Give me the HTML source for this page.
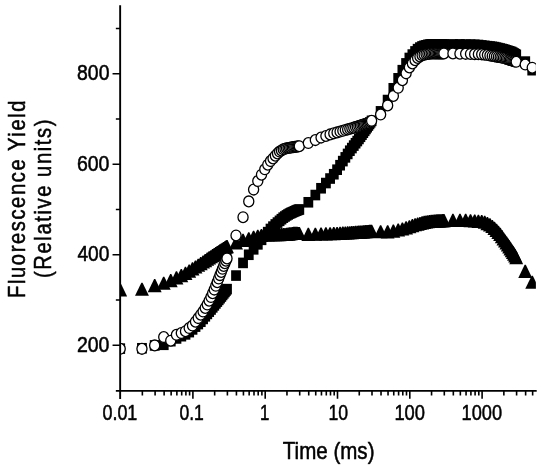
<!DOCTYPE html>
<html><head><meta charset="utf-8"><title>Fluorescence Yield</title>
<style>
html,body{margin:0;padding:0;background:#fff;}
body{width:550px;height:465px;overflow:hidden;font-family:"Liberation Sans",sans-serif;}
svg{display:block;font-family:"Liberation Sans",sans-serif;}
</style></head><body>
<svg width="550" height="465" viewBox="0 0 550 465">
<defs><clipPath id="pc"><rect x="120.15" y="0" width="415.75" height="391"/></clipPath></defs>
<rect width="550" height="465" fill="#fff"/>
<g clip-path="url(#pc)">
<rect x="115.30" y="343.33" width="9.80" height="10.60"/>
<rect x="137.06" y="342.97" width="9.80" height="10.60"/>
<rect x="149.80" y="340.12" width="9.80" height="10.60"/>
<rect x="158.83" y="339.49" width="9.80" height="10.60"/>
<rect x="165.84" y="335.87" width="9.80" height="10.60"/>
<rect x="171.56" y="333.15" width="9.80" height="10.60"/>
<rect x="176.40" y="330.89" width="9.80" height="10.60"/>
<rect x="180.59" y="329.08" width="9.80" height="10.60"/>
<rect x="184.29" y="326.82" width="9.80" height="10.60"/>
<rect x="187.60" y="324.11" width="9.80" height="10.60"/>
<rect x="190.59" y="321.31" width="9.80" height="10.60"/>
<rect x="193.32" y="318.76" width="9.80" height="10.60"/>
<rect x="195.84" y="316.42" width="9.80" height="10.60"/>
<rect x="198.17" y="313.63" width="9.80" height="10.60"/>
<rect x="200.33" y="311.04" width="9.80" height="10.60"/>
<rect x="202.36" y="308.62" width="9.80" height="10.60"/>
<rect x="204.26" y="306.35" width="9.80" height="10.60"/>
<rect x="206.06" y="304.20" width="9.80" height="10.60"/>
<rect x="207.75" y="302.07" width="9.80" height="10.60"/>
<rect x="209.36" y="300.06" width="9.80" height="10.60"/>
<rect x="210.90" y="298.14" width="9.80" height="10.60"/>
<rect x="212.36" y="296.31" width="9.80" height="10.60"/>
<rect x="213.75" y="294.56" width="9.80" height="10.60"/>
<rect x="215.09" y="292.89" width="9.80" height="10.60"/>
<rect x="216.37" y="291.24" width="9.80" height="10.60"/>
<rect x="217.60" y="289.64" width="9.80" height="10.60"/>
<rect x="218.79" y="288.11" width="9.80" height="10.60"/>
<rect x="219.93" y="286.64" width="9.80" height="10.60"/>
<rect x="221.03" y="285.22" width="9.80" height="10.60"/>
<rect x="222.10" y="283.84" width="9.80" height="10.60"/>
<rect x="231.13" y="270.27" width="9.80" height="10.60"/>
<rect x="238.14" y="257.60" width="9.80" height="10.60"/>
<rect x="243.86" y="249.46" width="9.80" height="10.60"/>
<rect x="248.70" y="244.03" width="9.80" height="10.60"/>
<rect x="252.89" y="239.05" width="9.80" height="10.60"/>
<rect x="256.59" y="234.53" width="9.80" height="10.60"/>
<rect x="259.90" y="230.46" width="9.80" height="10.60"/>
<rect x="262.89" y="226.84" width="9.80" height="10.60"/>
<rect x="265.62" y="223.67" width="9.80" height="10.60"/>
<rect x="268.14" y="221.32" width="9.80" height="10.60"/>
<rect x="270.47" y="219.15" width="9.80" height="10.60"/>
<rect x="272.63" y="217.28" width="9.80" height="10.60"/>
<rect x="274.66" y="215.53" width="9.80" height="10.60"/>
<rect x="276.56" y="213.90" width="9.80" height="10.60"/>
<rect x="278.36" y="212.36" width="9.80" height="10.60"/>
<rect x="280.05" y="211.20" width="9.80" height="10.60"/>
<rect x="281.66" y="210.10" width="9.80" height="10.60"/>
<rect x="283.20" y="209.17" width="9.80" height="10.60"/>
<rect x="284.66" y="208.29" width="9.80" height="10.60"/>
<rect x="286.05" y="207.66" width="9.80" height="10.60"/>
<rect x="287.39" y="207.06" width="9.80" height="10.60"/>
<rect x="288.67" y="206.48" width="9.80" height="10.60"/>
<rect x="289.90" y="205.93" width="9.80" height="10.60"/>
<rect x="291.09" y="205.41" width="9.80" height="10.60"/>
<rect x="292.23" y="204.90" width="9.80" height="10.60"/>
<rect x="293.33" y="204.55" width="9.80" height="10.60"/>
<rect x="294.40" y="204.22" width="9.80" height="10.60"/>
<rect x="303.43" y="196.98" width="9.80" height="10.60"/>
<rect x="310.44" y="189.74" width="9.80" height="10.60"/>
<rect x="316.16" y="182.96" width="9.80" height="10.60"/>
<rect x="321.00" y="177.75" width="9.80" height="10.60"/>
<rect x="325.19" y="173.23" width="9.80" height="10.60"/>
<rect x="328.89" y="168.93" width="9.80" height="10.60"/>
<rect x="332.20" y="164.41" width="9.80" height="10.60"/>
<rect x="335.19" y="159.92" width="9.80" height="10.60"/>
<rect x="337.92" y="155.81" width="9.80" height="10.60"/>
<rect x="340.44" y="152.08" width="9.80" height="10.60"/>
<rect x="342.77" y="148.63" width="9.80" height="10.60"/>
<rect x="344.93" y="145.41" width="9.80" height="10.60"/>
<rect x="346.96" y="142.77" width="9.80" height="10.60"/>
<rect x="348.86" y="140.29" width="9.80" height="10.60"/>
<rect x="350.66" y="137.95" width="9.80" height="10.60"/>
<rect x="352.35" y="135.74" width="9.80" height="10.60"/>
<rect x="353.96" y="133.65" width="9.80" height="10.60"/>
<rect x="355.50" y="131.47" width="9.80" height="10.60"/>
<rect x="356.96" y="129.39" width="9.80" height="10.60"/>
<rect x="358.35" y="127.41" width="9.80" height="10.60"/>
<rect x="359.69" y="125.51" width="9.80" height="10.60"/>
<rect x="360.97" y="123.69" width="9.80" height="10.60"/>
<rect x="362.20" y="121.94" width="9.80" height="10.60"/>
<rect x="363.39" y="120.26" width="9.80" height="10.60"/>
<rect x="364.53" y="118.63" width="9.80" height="10.60"/>
<rect x="365.63" y="117.06" width="9.80" height="10.60"/>
<rect x="366.70" y="115.55" width="9.80" height="10.60"/>
<rect x="375.73" y="106.05" width="9.80" height="10.60"/>
<rect x="382.74" y="94.74" width="9.80" height="10.60"/>
<rect x="388.46" y="82.98" width="9.80" height="10.60"/>
<rect x="393.30" y="73.02" width="9.80" height="10.60"/>
<rect x="397.49" y="64.88" width="9.80" height="10.60"/>
<rect x="401.19" y="58.09" width="9.80" height="10.60"/>
<rect x="404.50" y="52.67" width="9.80" height="10.60"/>
<rect x="407.49" y="49.27" width="9.80" height="10.60"/>
<rect x="410.22" y="46.11" width="9.80" height="10.60"/>
<rect x="412.74" y="43.84" width="9.80" height="10.60"/>
<rect x="415.07" y="42.26" width="9.80" height="10.60"/>
<rect x="417.23" y="41.13" width="9.80" height="10.60"/>
<rect x="419.26" y="40.45" width="9.80" height="10.60"/>
<rect x="421.16" y="40.00" width="9.80" height="10.60"/>
<rect x="422.96" y="39.55" width="9.80" height="10.60"/>
<rect x="424.65" y="39.31" width="9.80" height="10.60"/>
<rect x="426.26" y="39.09" width="9.80" height="10.60"/>
<rect x="427.80" y="39.09" width="9.80" height="10.60"/>
<rect x="429.26" y="39.09" width="9.80" height="10.60"/>
<rect x="430.65" y="39.09" width="9.80" height="10.60"/>
<rect x="431.99" y="39.09" width="9.80" height="10.60"/>
<rect x="433.27" y="39.09" width="9.80" height="10.60"/>
<rect x="434.50" y="39.09" width="9.80" height="10.60"/>
<rect x="435.69" y="39.09" width="9.80" height="10.60"/>
<rect x="436.83" y="39.09" width="9.80" height="10.60"/>
<rect x="437.93" y="39.09" width="9.80" height="10.60"/>
<rect x="439.00" y="39.09" width="9.80" height="10.60"/>
<rect x="448.03" y="39.09" width="9.80" height="10.60"/>
<rect x="455.04" y="39.09" width="9.80" height="10.60"/>
<rect x="460.76" y="39.24" width="9.80" height="10.60"/>
<rect x="465.60" y="39.37" width="9.80" height="10.60"/>
<rect x="469.79" y="39.48" width="9.80" height="10.60"/>
<rect x="473.49" y="39.69" width="9.80" height="10.60"/>
<rect x="476.80" y="40.12" width="9.80" height="10.60"/>
<rect x="479.79" y="40.52" width="9.80" height="10.60"/>
<rect x="482.52" y="40.88" width="9.80" height="10.60"/>
<rect x="485.04" y="41.21" width="9.80" height="10.60"/>
<rect x="487.37" y="41.52" width="9.80" height="10.60"/>
<rect x="489.53" y="41.81" width="9.80" height="10.60"/>
<rect x="491.56" y="42.32" width="9.80" height="10.60"/>
<rect x="493.46" y="42.79" width="9.80" height="10.60"/>
<rect x="495.26" y="43.24" width="9.80" height="10.60"/>
<rect x="496.95" y="43.67" width="9.80" height="10.60"/>
<rect x="498.56" y="44.07" width="9.80" height="10.60"/>
<rect x="500.10" y="44.58" width="9.80" height="10.60"/>
<rect x="501.56" y="45.06" width="9.80" height="10.60"/>
<rect x="502.95" y="45.52" width="9.80" height="10.60"/>
<rect x="504.29" y="45.96" width="9.80" height="10.60"/>
<rect x="505.57" y="46.38" width="9.80" height="10.60"/>
<rect x="506.80" y="46.78" width="9.80" height="10.60"/>
<rect x="507.99" y="47.50" width="9.80" height="10.60"/>
<rect x="509.13" y="48.19" width="9.80" height="10.60"/>
<rect x="510.23" y="48.86" width="9.80" height="10.60"/>
<rect x="511.30" y="49.50" width="9.80" height="10.60"/>
<rect x="520.33" y="56.29" width="9.80" height="10.60"/>
<rect x="527.34" y="64.88" width="9.80" height="10.60"/>
<path d="M119.60 283.27h1.2L127.15 296.42h-13.90Z"/>
<path d="M141.36 282.69h1.2L148.91 295.84h-13.90Z"/>
<path d="M154.10 278.98h1.2L161.65 292.13h-13.90Z"/>
<path d="M163.13 276.71h1.2L170.68 289.86h-13.90Z"/>
<path d="M170.14 274.00h1.2L177.69 287.15h-13.90Z"/>
<path d="M175.86 271.28h1.2L183.41 284.43h-13.90Z"/>
<path d="M180.70 269.02h1.2L188.25 282.17h-13.90Z"/>
<path d="M184.89 266.76h1.2L192.44 279.91h-13.90Z"/>
<path d="M188.59 264.50h1.2L196.14 277.65h-13.90Z"/>
<path d="M191.90 262.24h1.2L199.45 275.39h-13.90Z"/>
<path d="M194.89 260.40h1.2L202.44 273.55h-13.90Z"/>
<path d="M197.62 258.67h1.2L205.17 271.82h-13.90Z"/>
<path d="M200.14 256.99h1.2L207.69 270.14h-13.90Z"/>
<path d="M202.47 255.43h1.2L210.02 268.58h-13.90Z"/>
<path d="M204.63 253.98h1.2L212.18 267.13h-13.90Z"/>
<path d="M206.66 252.62h1.2L214.21 265.77h-13.90Z"/>
<path d="M208.56 251.35h1.2L216.11 264.50h-13.90Z"/>
<path d="M210.36 250.15h1.2L217.91 263.30h-13.90Z"/>
<path d="M212.05 249.04h1.2L219.60 262.19h-13.90Z"/>
<path d="M213.66 248.01h1.2L221.21 261.16h-13.90Z"/>
<path d="M215.20 247.03h1.2L222.75 260.18h-13.90Z"/>
<path d="M216.66 246.10h1.2L224.21 259.25h-13.90Z"/>
<path d="M218.05 245.21h1.2L225.60 258.36h-13.90Z"/>
<path d="M219.39 244.36h1.2L226.94 257.51h-13.90Z"/>
<path d="M220.67 243.54h1.2L228.22 256.69h-13.90Z"/>
<path d="M221.90 242.76h1.2L229.45 255.91h-13.90Z"/>
<path d="M223.09 242.00h1.2L230.64 255.15h-13.90Z"/>
<path d="M224.23 241.27h1.2L231.78 254.42h-13.90Z"/>
<path d="M225.33 240.57h1.2L232.88 253.72h-13.90Z"/>
<path d="M226.40 240.04h1.2L233.95 253.19h-13.90Z"/>
<path d="M235.43 236.41h1.2L242.98 249.56h-13.90Z"/>
<path d="M242.44 233.82h1.2L249.99 246.97h-13.90Z"/>
<path d="M248.16 232.13h1.2L255.71 245.28h-13.90Z"/>
<path d="M253.00 230.70h1.2L260.55 243.85h-13.90Z"/>
<path d="M257.19 229.68h1.2L264.74 242.83h-13.90Z"/>
<path d="M260.89 228.95h1.2L268.44 242.10h-13.90Z"/>
<path d="M264.20 228.31h1.2L271.75 241.46h-13.90Z"/>
<path d="M267.19 228.24h1.2L274.74 241.39h-13.90Z"/>
<path d="M269.92 228.19h1.2L277.47 241.34h-13.90Z"/>
<path d="M272.44 228.14h1.2L279.99 241.29h-13.90Z"/>
<path d="M274.77 228.09h1.2L282.32 241.24h-13.90Z"/>
<path d="M276.93 228.04h1.2L284.48 241.19h-13.90Z"/>
<path d="M278.96 228.00h1.2L286.51 241.15h-13.90Z"/>
<path d="M280.86 227.96h1.2L288.41 241.11h-13.90Z"/>
<path d="M282.66 227.92h1.2L290.21 241.07h-13.90Z"/>
<path d="M284.35 227.89h1.2L291.90 241.04h-13.90Z"/>
<path d="M285.96 227.85h1.2L293.51 241.00h-13.90Z"/>
<path d="M287.50 227.61h1.2L295.05 240.76h-13.90Z"/>
<path d="M288.96 227.37h1.2L296.51 240.52h-13.90Z"/>
<path d="M290.35 227.15h1.2L297.90 240.30h-13.90Z"/>
<path d="M291.69 226.93h1.2L299.24 240.08h-13.90Z"/>
<path d="M292.97 226.72h1.2L300.52 239.87h-13.90Z"/>
<path d="M294.20 226.77h1.2L301.75 239.92h-13.90Z"/>
<path d="M295.39 226.82h1.2L302.94 239.97h-13.90Z"/>
<path d="M296.53 226.86h1.2L304.08 240.01h-13.90Z"/>
<path d="M297.63 226.91h1.2L305.18 240.06h-13.90Z"/>
<path d="M298.70 226.95h1.2L306.25 240.10h-13.90Z"/>
<path d="M307.73 227.85h1.2L315.28 241.00h-13.90Z"/>
<path d="M314.74 227.63h1.2L322.29 240.78h-13.90Z"/>
<path d="M320.46 227.45h1.2L328.01 240.60h-13.90Z"/>
<path d="M325.30 227.30h1.2L332.85 240.45h-13.90Z"/>
<path d="M329.49 227.17h1.2L337.04 240.32h-13.90Z"/>
<path d="M333.19 227.05h1.2L340.74 240.20h-13.90Z"/>
<path d="M336.50 226.95h1.2L344.05 240.10h-13.90Z"/>
<path d="M339.49 226.76h1.2L347.04 239.91h-13.90Z"/>
<path d="M342.22 226.59h1.2L349.77 239.74h-13.90Z"/>
<path d="M344.74 226.44h1.2L352.29 239.59h-13.90Z"/>
<path d="M347.07 226.29h1.2L354.62 239.44h-13.90Z"/>
<path d="M349.23 226.16h1.2L356.78 239.31h-13.90Z"/>
<path d="M351.26 226.03h1.2L358.81 239.18h-13.90Z"/>
<path d="M353.16 225.91h1.2L360.71 239.06h-13.90Z"/>
<path d="M354.96 225.80h1.2L362.51 238.95h-13.90Z"/>
<path d="M356.65 225.69h1.2L364.20 238.84h-13.90Z"/>
<path d="M358.26 225.59h1.2L365.81 238.74h-13.90Z"/>
<path d="M359.80 225.48h1.2L367.35 238.63h-13.90Z"/>
<path d="M361.26 225.38h1.2L368.81 238.53h-13.90Z"/>
<path d="M362.65 225.28h1.2L370.20 238.43h-13.90Z"/>
<path d="M363.99 225.19h1.2L371.54 238.34h-13.90Z"/>
<path d="M365.27 225.09h1.2L372.82 238.24h-13.90Z"/>
<path d="M366.50 225.01h1.2L374.05 238.16h-13.90Z"/>
<path d="M367.69 224.92h1.2L375.24 238.07h-13.90Z"/>
<path d="M368.83 224.84h1.2L376.38 237.99h-13.90Z"/>
<path d="M369.93 224.76h1.2L377.48 237.91h-13.90Z"/>
<path d="M371.00 224.69h1.2L378.55 237.84h-13.90Z"/>
<path d="M380.03 225.14h1.2L387.58 238.29h-13.90Z"/>
<path d="M387.04 225.37h1.2L394.59 238.52h-13.90Z"/>
<path d="M392.76 224.56h1.2L400.31 237.71h-13.90Z"/>
<path d="M397.60 223.42h1.2L405.15 236.57h-13.90Z"/>
<path d="M401.79 222.42h1.2L409.34 235.57h-13.90Z"/>
<path d="M405.49 221.34h1.2L413.04 234.49h-13.90Z"/>
<path d="M408.80 220.16h1.2L416.35 233.31h-13.90Z"/>
<path d="M411.79 219.10h1.2L419.34 232.25h-13.90Z"/>
<path d="M414.52 218.13h1.2L422.07 231.28h-13.90Z"/>
<path d="M417.04 217.48h1.2L424.59 230.63h-13.90Z"/>
<path d="M419.37 216.88h1.2L426.92 230.03h-13.90Z"/>
<path d="M421.53 216.32h1.2L429.08 229.47h-13.90Z"/>
<path d="M423.56 215.85h1.2L431.11 229.00h-13.90Z"/>
<path d="M425.46 215.41h1.2L433.01 228.56h-13.90Z"/>
<path d="M427.26 215.17h1.2L434.81 228.32h-13.90Z"/>
<path d="M428.95 214.95h1.2L436.50 228.10h-13.90Z"/>
<path d="M430.56 214.73h1.2L438.11 227.88h-13.90Z"/>
<path d="M432.10 214.64h1.2L439.65 227.79h-13.90Z"/>
<path d="M433.56 214.54h1.2L441.11 227.69h-13.90Z"/>
<path d="M434.95 214.45h1.2L442.50 227.60h-13.90Z"/>
<path d="M436.29 214.37h1.2L443.84 227.52h-13.90Z"/>
<path d="M437.57 214.28h1.2L445.12 227.43h-13.90Z"/>
<path d="M438.80 214.23h1.2L446.35 227.38h-13.90Z"/>
<path d="M439.99 214.19h1.2L447.54 227.34h-13.90Z"/>
<path d="M441.13 214.14h1.2L448.68 227.29h-13.90Z"/>
<path d="M442.23 214.10h1.2L449.78 227.25h-13.90Z"/>
<path d="M443.30 214.06h1.2L450.85 227.21h-13.90Z"/>
<path d="M452.33 213.83h1.2L459.88 226.98h-13.90Z"/>
<path d="M459.34 213.83h1.2L466.89 226.98h-13.90Z"/>
<path d="M465.06 213.83h1.2L472.61 226.98h-13.90Z"/>
<path d="M469.90 214.17h1.2L477.45 227.32h-13.90Z"/>
<path d="M474.09 214.47h1.2L481.64 227.62h-13.90Z"/>
<path d="M477.79 214.73h1.2L485.34 227.88h-13.90Z"/>
<path d="M481.10 214.96h1.2L488.65 228.11h-13.90Z"/>
<path d="M484.09 215.64h1.2L491.64 228.79h-13.90Z"/>
<path d="M486.82 217.00h1.2L494.37 230.15h-13.90Z"/>
<path d="M489.34 218.35h1.2L496.89 231.50h-13.90Z"/>
<path d="M491.67 219.94h1.2L499.22 233.09h-13.90Z"/>
<path d="M493.83 221.75h1.2L501.38 234.90h-13.90Z"/>
<path d="M495.86 223.78h1.2L503.41 236.93h-13.90Z"/>
<path d="M497.76 225.82h1.2L505.31 238.97h-13.90Z"/>
<path d="M499.56 227.85h1.2L507.11 241.00h-13.90Z"/>
<path d="M501.25 230.12h1.2L508.80 243.27h-13.90Z"/>
<path d="M502.86 232.38h1.2L510.41 245.53h-13.90Z"/>
<path d="M504.40 234.46h1.2L511.95 247.61h-13.90Z"/>
<path d="M505.86 236.45h1.2L513.41 249.60h-13.90Z"/>
<path d="M507.25 238.41h1.2L514.80 251.56h-13.90Z"/>
<path d="M508.59 240.30h1.2L516.14 253.45h-13.90Z"/>
<path d="M509.87 242.26h1.2L517.42 255.41h-13.90Z"/>
<path d="M511.10 244.14h1.2L518.65 257.29h-13.90Z"/>
<path d="M512.29 245.87h1.2L519.84 259.02h-13.90Z"/>
<path d="M513.43 247.53h1.2L520.98 260.68h-13.90Z"/>
<path d="M514.53 249.37h1.2L522.08 262.52h-13.90Z"/>
<path d="M515.60 251.15h1.2L523.15 264.30h-13.90Z"/>
<path d="M524.63 264.77h1.2L532.18 277.92h-13.90Z"/>
<path d="M531.64 275.67h1.2L539.19 288.82h-13.90Z"/>
<ellipse cx="120.20" cy="348.86" rx="5.05" ry="5.40" fill="#fff" stroke="#000" stroke-width="1.30"/>
<ellipse cx="141.96" cy="348.86" rx="5.05" ry="5.40" fill="#fff" stroke="#000" stroke-width="1.30"/>
<ellipse cx="154.70" cy="345.42" rx="5.05" ry="5.40" fill="#fff" stroke="#000" stroke-width="1.30"/>
<ellipse cx="163.73" cy="337.10" rx="5.05" ry="5.40" fill="#fff" stroke="#000" stroke-width="1.30"/>
<ellipse cx="170.74" cy="340.72" rx="5.05" ry="5.40" fill="#fff" stroke="#000" stroke-width="1.30"/>
<ellipse cx="176.46" cy="334.83" rx="5.05" ry="5.40" fill="#fff" stroke="#000" stroke-width="1.30"/>
<ellipse cx="181.30" cy="333.03" rx="5.05" ry="5.40" fill="#fff" stroke="#000" stroke-width="1.30"/>
<ellipse cx="185.49" cy="331.22" rx="5.05" ry="5.40" fill="#fff" stroke="#000" stroke-width="1.30"/>
<ellipse cx="189.19" cy="328.05" rx="5.05" ry="5.40" fill="#fff" stroke="#000" stroke-width="1.30"/>
<ellipse cx="192.50" cy="325.56" rx="5.05" ry="5.40" fill="#fff" stroke="#000" stroke-width="1.30"/>
<ellipse cx="195.49" cy="321.66" rx="5.05" ry="5.40" fill="#fff" stroke="#000" stroke-width="1.30"/>
<ellipse cx="198.22" cy="318.10" rx="5.05" ry="5.40" fill="#fff" stroke="#000" stroke-width="1.30"/>
<ellipse cx="200.74" cy="314.69" rx="5.05" ry="5.40" fill="#fff" stroke="#000" stroke-width="1.30"/>
<ellipse cx="203.07" cy="311.54" rx="5.05" ry="5.40" fill="#fff" stroke="#000" stroke-width="1.30"/>
<ellipse cx="205.23" cy="307.91" rx="5.05" ry="5.40" fill="#fff" stroke="#000" stroke-width="1.30"/>
<ellipse cx="207.26" cy="304.52" rx="5.05" ry="5.40" fill="#fff" stroke="#000" stroke-width="1.30"/>
<ellipse cx="209.16" cy="300.68" rx="5.05" ry="5.40" fill="#fff" stroke="#000" stroke-width="1.30"/>
<ellipse cx="210.96" cy="297.06" rx="5.05" ry="5.40" fill="#fff" stroke="#000" stroke-width="1.30"/>
<ellipse cx="212.65" cy="293.23" rx="5.05" ry="5.40" fill="#fff" stroke="#000" stroke-width="1.30"/>
<ellipse cx="214.26" cy="289.59" rx="5.05" ry="5.40" fill="#fff" stroke="#000" stroke-width="1.30"/>
<ellipse cx="215.80" cy="285.77" rx="5.05" ry="5.40" fill="#fff" stroke="#000" stroke-width="1.30"/>
<ellipse cx="217.26" cy="282.13" rx="5.05" ry="5.40" fill="#fff" stroke="#000" stroke-width="1.30"/>
<ellipse cx="218.65" cy="278.55" rx="5.05" ry="5.40" fill="#fff" stroke="#000" stroke-width="1.30"/>
<ellipse cx="219.99" cy="275.12" rx="5.05" ry="5.40" fill="#fff" stroke="#000" stroke-width="1.30"/>
<ellipse cx="221.27" cy="271.89" rx="5.05" ry="5.40" fill="#fff" stroke="#000" stroke-width="1.30"/>
<ellipse cx="222.50" cy="268.78" rx="5.05" ry="5.40" fill="#fff" stroke="#000" stroke-width="1.30"/>
<ellipse cx="223.69" cy="265.90" rx="5.05" ry="5.40" fill="#fff" stroke="#000" stroke-width="1.30"/>
<ellipse cx="224.83" cy="263.13" rx="5.05" ry="5.40" fill="#fff" stroke="#000" stroke-width="1.30"/>
<ellipse cx="225.93" cy="260.71" rx="5.05" ry="5.40" fill="#fff" stroke="#000" stroke-width="1.30"/>
<ellipse cx="227.00" cy="258.38" rx="5.05" ry="5.40" fill="#fff" stroke="#000" stroke-width="1.30"/>
<ellipse cx="236.03" cy="235.44" rx="5.05" ry="5.40" fill="#fff" stroke="#000" stroke-width="1.30"/>
<ellipse cx="243.04" cy="217.21" rx="5.05" ry="5.40" fill="#fff" stroke="#000" stroke-width="1.30"/>
<ellipse cx="248.76" cy="201.38" rx="5.05" ry="5.40" fill="#fff" stroke="#000" stroke-width="1.30"/>
<ellipse cx="253.60" cy="189.61" rx="5.05" ry="5.40" fill="#fff" stroke="#000" stroke-width="1.30"/>
<ellipse cx="257.79" cy="181.02" rx="5.05" ry="5.40" fill="#fff" stroke="#000" stroke-width="1.30"/>
<ellipse cx="261.49" cy="174.69" rx="5.05" ry="5.40" fill="#fff" stroke="#000" stroke-width="1.30"/>
<ellipse cx="264.80" cy="169.26" rx="5.05" ry="5.40" fill="#fff" stroke="#000" stroke-width="1.30"/>
<ellipse cx="267.79" cy="164.73" rx="5.05" ry="5.40" fill="#fff" stroke="#000" stroke-width="1.30"/>
<ellipse cx="270.52" cy="161.11" rx="5.05" ry="5.40" fill="#fff" stroke="#000" stroke-width="1.30"/>
<ellipse cx="273.04" cy="158.40" rx="5.05" ry="5.40" fill="#fff" stroke="#000" stroke-width="1.30"/>
<ellipse cx="275.37" cy="155.68" rx="5.05" ry="5.40" fill="#fff" stroke="#000" stroke-width="1.30"/>
<ellipse cx="277.53" cy="153.42" rx="5.05" ry="5.40" fill="#fff" stroke="#000" stroke-width="1.30"/>
<ellipse cx="279.56" cy="151.61" rx="5.05" ry="5.40" fill="#fff" stroke="#000" stroke-width="1.30"/>
<ellipse cx="281.46" cy="150.45" rx="5.05" ry="5.40" fill="#fff" stroke="#000" stroke-width="1.30"/>
<ellipse cx="283.26" cy="149.35" rx="5.05" ry="5.40" fill="#fff" stroke="#000" stroke-width="1.30"/>
<ellipse cx="284.95" cy="148.77" rx="5.05" ry="5.40" fill="#fff" stroke="#000" stroke-width="1.30"/>
<ellipse cx="286.56" cy="148.22" rx="5.05" ry="5.40" fill="#fff" stroke="#000" stroke-width="1.30"/>
<ellipse cx="288.10" cy="147.98" rx="5.05" ry="5.40" fill="#fff" stroke="#000" stroke-width="1.30"/>
<ellipse cx="289.56" cy="147.75" rx="5.05" ry="5.40" fill="#fff" stroke="#000" stroke-width="1.30"/>
<ellipse cx="290.95" cy="147.53" rx="5.05" ry="5.40" fill="#fff" stroke="#000" stroke-width="1.30"/>
<ellipse cx="292.29" cy="147.31" rx="5.05" ry="5.40" fill="#fff" stroke="#000" stroke-width="1.30"/>
<ellipse cx="293.57" cy="147.11" rx="5.05" ry="5.40" fill="#fff" stroke="#000" stroke-width="1.30"/>
<ellipse cx="294.80" cy="146.91" rx="5.05" ry="5.40" fill="#fff" stroke="#000" stroke-width="1.30"/>
<ellipse cx="295.99" cy="146.72" rx="5.05" ry="5.40" fill="#fff" stroke="#000" stroke-width="1.30"/>
<ellipse cx="297.13" cy="146.53" rx="5.05" ry="5.40" fill="#fff" stroke="#000" stroke-width="1.30"/>
<ellipse cx="298.23" cy="146.36" rx="5.05" ry="5.40" fill="#fff" stroke="#000" stroke-width="1.30"/>
<ellipse cx="299.30" cy="146.18" rx="5.05" ry="5.40" fill="#fff" stroke="#000" stroke-width="1.30"/>
<ellipse cx="308.33" cy="143.02" rx="5.05" ry="5.40" fill="#fff" stroke="#000" stroke-width="1.30"/>
<ellipse cx="315.34" cy="140.08" rx="5.05" ry="5.40" fill="#fff" stroke="#000" stroke-width="1.30"/>
<ellipse cx="321.06" cy="137.59" rx="5.05" ry="5.40" fill="#fff" stroke="#000" stroke-width="1.30"/>
<ellipse cx="325.90" cy="136.00" rx="5.05" ry="5.40" fill="#fff" stroke="#000" stroke-width="1.30"/>
<ellipse cx="330.09" cy="134.42" rx="5.05" ry="5.40" fill="#fff" stroke="#000" stroke-width="1.30"/>
<ellipse cx="333.79" cy="133.35" rx="5.05" ry="5.40" fill="#fff" stroke="#000" stroke-width="1.30"/>
<ellipse cx="337.10" cy="132.39" rx="5.05" ry="5.40" fill="#fff" stroke="#000" stroke-width="1.30"/>
<ellipse cx="340.09" cy="131.56" rx="5.05" ry="5.40" fill="#fff" stroke="#000" stroke-width="1.30"/>
<ellipse cx="342.82" cy="130.80" rx="5.05" ry="5.40" fill="#fff" stroke="#000" stroke-width="1.30"/>
<ellipse cx="345.34" cy="130.07" rx="5.05" ry="5.40" fill="#fff" stroke="#000" stroke-width="1.30"/>
<ellipse cx="347.67" cy="129.40" rx="5.05" ry="5.40" fill="#fff" stroke="#000" stroke-width="1.30"/>
<ellipse cx="349.83" cy="128.77" rx="5.05" ry="5.40" fill="#fff" stroke="#000" stroke-width="1.30"/>
<ellipse cx="351.86" cy="128.19" rx="5.05" ry="5.40" fill="#fff" stroke="#000" stroke-width="1.30"/>
<ellipse cx="353.76" cy="127.64" rx="5.05" ry="5.40" fill="#fff" stroke="#000" stroke-width="1.30"/>
<ellipse cx="355.56" cy="127.08" rx="5.05" ry="5.40" fill="#fff" stroke="#000" stroke-width="1.30"/>
<ellipse cx="357.25" cy="126.56" rx="5.05" ry="5.40" fill="#fff" stroke="#000" stroke-width="1.30"/>
<ellipse cx="358.86" cy="126.07" rx="5.05" ry="5.40" fill="#fff" stroke="#000" stroke-width="1.30"/>
<ellipse cx="360.40" cy="125.60" rx="5.05" ry="5.40" fill="#fff" stroke="#000" stroke-width="1.30"/>
<ellipse cx="361.86" cy="125.11" rx="5.05" ry="5.40" fill="#fff" stroke="#000" stroke-width="1.30"/>
<ellipse cx="363.25" cy="124.64" rx="5.05" ry="5.40" fill="#fff" stroke="#000" stroke-width="1.30"/>
<ellipse cx="364.59" cy="124.19" rx="5.05" ry="5.40" fill="#fff" stroke="#000" stroke-width="1.30"/>
<ellipse cx="365.87" cy="123.75" rx="5.05" ry="5.40" fill="#fff" stroke="#000" stroke-width="1.30"/>
<ellipse cx="367.10" cy="123.34" rx="5.05" ry="5.40" fill="#fff" stroke="#000" stroke-width="1.30"/>
<ellipse cx="368.29" cy="122.68" rx="5.05" ry="5.40" fill="#fff" stroke="#000" stroke-width="1.30"/>
<ellipse cx="369.43" cy="122.05" rx="5.05" ry="5.40" fill="#fff" stroke="#000" stroke-width="1.30"/>
<ellipse cx="370.53" cy="121.44" rx="5.05" ry="5.40" fill="#fff" stroke="#000" stroke-width="1.30"/>
<ellipse cx="371.60" cy="120.85" rx="5.05" ry="5.40" fill="#fff" stroke="#000" stroke-width="1.30"/>
<ellipse cx="380.63" cy="114.52" rx="5.05" ry="5.40" fill="#fff" stroke="#000" stroke-width="1.30"/>
<ellipse cx="387.64" cy="105.47" rx="5.05" ry="5.40" fill="#fff" stroke="#000" stroke-width="1.30"/>
<ellipse cx="393.36" cy="95.97" rx="5.05" ry="5.40" fill="#fff" stroke="#000" stroke-width="1.30"/>
<ellipse cx="398.20" cy="87.82" rx="5.05" ry="5.40" fill="#fff" stroke="#000" stroke-width="1.30"/>
<ellipse cx="402.39" cy="80.13" rx="5.05" ry="5.40" fill="#fff" stroke="#000" stroke-width="1.30"/>
<ellipse cx="406.09" cy="73.35" rx="5.05" ry="5.40" fill="#fff" stroke="#000" stroke-width="1.30"/>
<ellipse cx="409.40" cy="67.47" rx="5.05" ry="5.40" fill="#fff" stroke="#000" stroke-width="1.30"/>
<ellipse cx="412.39" cy="63.39" rx="5.05" ry="5.40" fill="#fff" stroke="#000" stroke-width="1.30"/>
<ellipse cx="415.12" cy="60.23" rx="5.05" ry="5.40" fill="#fff" stroke="#000" stroke-width="1.30"/>
<ellipse cx="417.64" cy="57.97" rx="5.05" ry="5.40" fill="#fff" stroke="#000" stroke-width="1.30"/>
<ellipse cx="419.97" cy="56.38" rx="5.05" ry="5.40" fill="#fff" stroke="#000" stroke-width="1.30"/>
<ellipse cx="422.13" cy="55.25" rx="5.05" ry="5.40" fill="#fff" stroke="#000" stroke-width="1.30"/>
<ellipse cx="424.16" cy="54.67" rx="5.05" ry="5.40" fill="#fff" stroke="#000" stroke-width="1.30"/>
<ellipse cx="426.06" cy="54.12" rx="5.05" ry="5.40" fill="#fff" stroke="#000" stroke-width="1.30"/>
<ellipse cx="427.86" cy="53.88" rx="5.05" ry="5.40" fill="#fff" stroke="#000" stroke-width="1.30"/>
<ellipse cx="429.55" cy="53.66" rx="5.05" ry="5.40" fill="#fff" stroke="#000" stroke-width="1.30"/>
<ellipse cx="431.16" cy="53.44" rx="5.05" ry="5.40" fill="#fff" stroke="#000" stroke-width="1.30"/>
<ellipse cx="432.70" cy="53.44" rx="5.05" ry="5.40" fill="#fff" stroke="#000" stroke-width="1.30"/>
<ellipse cx="434.16" cy="53.44" rx="5.05" ry="5.40" fill="#fff" stroke="#000" stroke-width="1.30"/>
<ellipse cx="435.55" cy="53.44" rx="5.05" ry="5.40" fill="#fff" stroke="#000" stroke-width="1.30"/>
<ellipse cx="436.89" cy="53.44" rx="5.05" ry="5.40" fill="#fff" stroke="#000" stroke-width="1.30"/>
<ellipse cx="438.17" cy="53.44" rx="5.05" ry="5.40" fill="#fff" stroke="#000" stroke-width="1.30"/>
<ellipse cx="439.40" cy="53.44" rx="5.05" ry="5.40" fill="#fff" stroke="#000" stroke-width="1.30"/>
<ellipse cx="440.59" cy="53.44" rx="5.05" ry="5.40" fill="#fff" stroke="#000" stroke-width="1.30"/>
<ellipse cx="441.73" cy="53.44" rx="5.05" ry="5.40" fill="#fff" stroke="#000" stroke-width="1.30"/>
<ellipse cx="442.83" cy="53.44" rx="5.05" ry="5.40" fill="#fff" stroke="#000" stroke-width="1.30"/>
<ellipse cx="443.90" cy="53.44" rx="5.05" ry="5.40" fill="#fff" stroke="#000" stroke-width="1.30"/>
<ellipse cx="452.93" cy="53.44" rx="5.05" ry="5.40" fill="#fff" stroke="#000" stroke-width="1.30"/>
<ellipse cx="459.94" cy="53.66" rx="5.05" ry="5.40" fill="#fff" stroke="#000" stroke-width="1.30"/>
<ellipse cx="465.66" cy="53.84" rx="5.05" ry="5.40" fill="#fff" stroke="#000" stroke-width="1.30"/>
<ellipse cx="470.50" cy="53.99" rx="5.05" ry="5.40" fill="#fff" stroke="#000" stroke-width="1.30"/>
<ellipse cx="474.69" cy="54.13" rx="5.05" ry="5.40" fill="#fff" stroke="#000" stroke-width="1.30"/>
<ellipse cx="478.39" cy="54.24" rx="5.05" ry="5.40" fill="#fff" stroke="#000" stroke-width="1.30"/>
<ellipse cx="481.70" cy="54.35" rx="5.05" ry="5.40" fill="#fff" stroke="#000" stroke-width="1.30"/>
<ellipse cx="484.69" cy="54.68" rx="5.05" ry="5.40" fill="#fff" stroke="#000" stroke-width="1.30"/>
<ellipse cx="487.42" cy="55.07" rx="5.05" ry="5.40" fill="#fff" stroke="#000" stroke-width="1.30"/>
<ellipse cx="489.94" cy="55.51" rx="5.05" ry="5.40" fill="#fff" stroke="#000" stroke-width="1.30"/>
<ellipse cx="492.27" cy="55.90" rx="5.05" ry="5.40" fill="#fff" stroke="#000" stroke-width="1.30"/>
<ellipse cx="494.43" cy="56.27" rx="5.05" ry="5.40" fill="#fff" stroke="#000" stroke-width="1.30"/>
<ellipse cx="496.46" cy="56.62" rx="5.05" ry="5.40" fill="#fff" stroke="#000" stroke-width="1.30"/>
<ellipse cx="498.36" cy="56.95" rx="5.05" ry="5.40" fill="#fff" stroke="#000" stroke-width="1.30"/>
<ellipse cx="500.16" cy="57.25" rx="5.05" ry="5.40" fill="#fff" stroke="#000" stroke-width="1.30"/>
<ellipse cx="501.85" cy="57.55" rx="5.05" ry="5.40" fill="#fff" stroke="#000" stroke-width="1.30"/>
<ellipse cx="503.46" cy="57.89" rx="5.05" ry="5.40" fill="#fff" stroke="#000" stroke-width="1.30"/>
<ellipse cx="505.00" cy="58.36" rx="5.05" ry="5.40" fill="#fff" stroke="#000" stroke-width="1.30"/>
<ellipse cx="506.46" cy="58.81" rx="5.05" ry="5.40" fill="#fff" stroke="#000" stroke-width="1.30"/>
<ellipse cx="507.85" cy="59.24" rx="5.05" ry="5.40" fill="#fff" stroke="#000" stroke-width="1.30"/>
<ellipse cx="509.19" cy="59.65" rx="5.05" ry="5.40" fill="#fff" stroke="#000" stroke-width="1.30"/>
<ellipse cx="510.47" cy="60.05" rx="5.05" ry="5.40" fill="#fff" stroke="#000" stroke-width="1.30"/>
<ellipse cx="511.70" cy="60.43" rx="5.05" ry="5.40" fill="#fff" stroke="#000" stroke-width="1.30"/>
<ellipse cx="512.89" cy="60.79" rx="5.05" ry="5.40" fill="#fff" stroke="#000" stroke-width="1.30"/>
<ellipse cx="514.03" cy="61.14" rx="5.05" ry="5.40" fill="#fff" stroke="#000" stroke-width="1.30"/>
<ellipse cx="515.13" cy="61.48" rx="5.05" ry="5.40" fill="#fff" stroke="#000" stroke-width="1.30"/>
<ellipse cx="516.20" cy="61.81" rx="5.05" ry="5.40" fill="#fff" stroke="#000" stroke-width="1.30"/>
<ellipse cx="525.23" cy="64.53" rx="5.05" ry="5.40" fill="#fff" stroke="#000" stroke-width="1.30"/>
<ellipse cx="532.24" cy="67.69" rx="5.05" ry="5.40" fill="#fff" stroke="#000" stroke-width="1.30"/>
</g>
<path d="M120.15 5.20V398.90" fill="none" stroke="#000" stroke-width="1.9"/><path d="M115.85 390.90H536.70" fill="none" stroke="#000" stroke-width="1.6"/>
<path d="M120.15 345.24h-7.6M120.15 300.00h-4.3M120.15 254.76h-7.6M120.15 209.52h-4.3M120.15 164.28h-7.6M120.15 119.04h-4.3M120.15 73.80h-7.6M120.15 28.56h-4.3M142.36 390.90v4.5M155.10 390.90v4.5M164.13 390.90v4.5M171.14 390.90v4.5M176.86 390.90v4.5M181.70 390.90v4.5M185.89 390.90v4.5M189.59 390.90v4.5M192.90 390.90v7.8M214.66 390.90v4.5M227.40 390.90v4.5M236.43 390.90v4.5M243.44 390.90v4.5M249.16 390.90v4.5M254.00 390.90v4.5M258.19 390.90v4.5M261.89 390.90v4.5M265.20 390.90v7.8M286.96 390.90v4.5M299.70 390.90v4.5M308.73 390.90v4.5M315.74 390.90v4.5M321.46 390.90v4.5M326.30 390.90v4.5M330.49 390.90v4.5M334.19 390.90v4.5M337.50 390.90v7.8M359.26 390.90v4.5M372.00 390.90v4.5M381.03 390.90v4.5M388.04 390.90v4.5M393.76 390.90v4.5M398.60 390.90v4.5M402.79 390.90v4.5M406.49 390.90v4.5M409.80 390.90v7.8M431.56 390.90v4.5M444.30 390.90v4.5M453.33 390.90v4.5M460.34 390.90v4.5M466.06 390.90v4.5M470.90 390.90v4.5M475.09 390.90v4.5M478.79 390.90v4.5M482.10 390.90v7.8M503.86 390.90v4.5M516.60 390.90v4.5M525.63 390.90v4.5M532.64 390.90v4.5" fill="none" stroke="#000" stroke-width="1.6"/>
<g fill="#000" opacity="0.999" stroke="#000" stroke-width="0.55" vector-effect="non-scaling-stroke" stroke-linejoin="round">
<text transform="translate(102.40,420.35) scale(0.8096,1)" font-size="22.2">0.01</text>
<text transform="translate(179.41,420.35) scale(0.7921,1)" font-size="22.2">0.1</text>
<text transform="translate(259.88,420.35) scale(0.7600,1)" font-size="22.2">1</text>
<text transform="translate(328.46,420.35) scale(0.7951,1)" font-size="22.2">10</text>
<text transform="translate(394.40,420.35) scale(0.8265,1)" font-size="22.2">100</text>
<text transform="translate(461.61,420.35) scale(0.8200,1)" font-size="22.2">1000</text>
<text transform="translate(77.06,80.10) scale(0.8748,1)" font-size="22.2">800</text>
<text transform="translate(76.91,170.60) scale(0.8789,1)" font-size="22.2">600</text>
<text transform="translate(77.46,261.10) scale(0.8636,1)" font-size="22.2">400</text>
<text transform="translate(76.92,351.50) scale(0.8786,1)" font-size="22.2">200</text>
<text transform="translate(282.84,458.60) scale(0.8743,1)" font-size="23.5">Time (ms)</text>
<text transform="translate(24.80,297.96) rotate(-90) scale(0.8600,1)" font-size="23.5" letter-spacing="1.832">Fluorescence Yield</text>
<text transform="translate(50.50,277.95) rotate(-90) scale(0.8600,1)" font-size="23.5" letter-spacing="1.832">(Relative units)</text>
</g>
</svg>
</body></html>
